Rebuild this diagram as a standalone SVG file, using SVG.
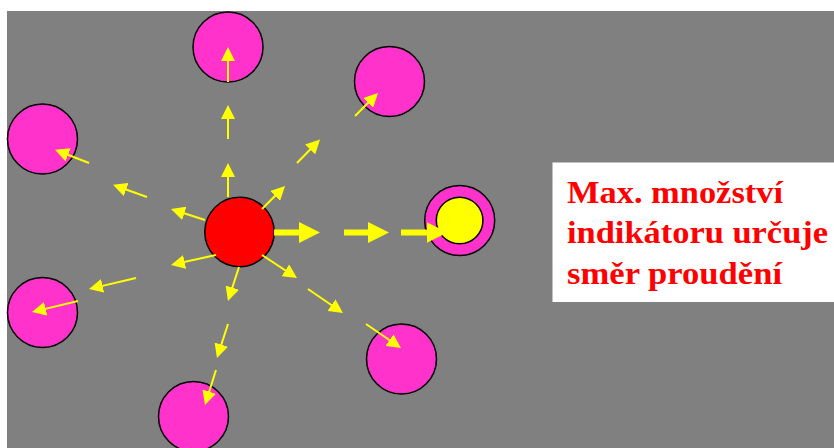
<svg xmlns="http://www.w3.org/2000/svg" width="834" height="448" viewBox="0 0 834 448">
  <style>
    .pink { fill: #FF33CC; stroke: #000; stroke-width: 1.5; }
    .red { fill: #FF0000; stroke: #000; stroke-width: 1.5; }
    .yel { fill: #FFFF00; stroke: #000; stroke-width: 1.5; }
    .thin { stroke: #FFFF00; stroke-width: 2; fill: none; marker-end: url(#headThin); }
    .thick { stroke: #FFFF00; stroke-width: 6; fill: none; marker-end: url(#headThick); }
    .label { font-family: "Liberation Serif", "Times New Roman", serif; font-weight: bold; font-size: 32px; fill: #FF0000; }
  </style>
  <defs>
    <marker id="headThin" markerUnits="userSpaceOnUse" markerWidth="14" markerHeight="14" viewBox="0 0 14 14" refX="10" refY="7" orient="auto">
      <path d="M0,0 L14,7 L0,14 Z" fill="#FFFF00"/>
    </marker>
    <marker id="headThick" markerUnits="userSpaceOnUse" markerWidth="21" markerHeight="21" viewBox="0 0 21 21" refX="13" refY="10.5" orient="auto">
      <path d="M0,0 L21,10.5 L0,21 Z" fill="#FFFF00"/>
    </marker>
  </defs>
  <rect x="0" y="0" width="834" height="448" fill="#FFFFFF"/>
  <rect id="background" x="7" y="11" width="827" height="437" fill="#808080"/>

  <g id="nodes">
    <g id="top"><circle class="pink" cx="228" cy="47" r="35"/></g>
    <g id="top-right"><circle class="pink" cx="389.5" cy="81.5" r="35"/></g>
    <g id="left-upper"><circle class="pink" cx="42.5" cy="139" r="35"/></g>
    <g id="left-lower"><circle class="pink" cx="42.5" cy="312.5" r="35"/></g>
    <g id="bottom"><circle class="pink" cx="193.5" cy="416.5" r="35"/></g>
    <g id="bottom-right"><circle class="pink" cx="401.5" cy="359" r="35"/></g>
    <g id="source"><circle class="red" cx="239.5" cy="232" r="34.7"/></g>
    <g id="target">
      <circle class="pink" cx="459.7" cy="220.5" r="35"/>
      <circle class="yel" cx="459.6" cy="220.5" r="23.3"/>
    </g>
  </g>

  <g id="connectors">
    <line class="thin" x1="228" y1="197" x2="228" y2="167"/>
    <line class="thin" x1="228" y1="139" x2="228" y2="109"/>
    <line class="thin" x1="228" y1="82" x2="228" y2="51"/>

    <line class="thin" x1="262" y1="209" x2="282.2" y2="188.8"/>
    <line class="thin" x1="297" y1="163" x2="317.2" y2="142.3"/>
    <line class="thin" x1="355" y1="116" x2="375.2" y2="95.8"/>

    <line class="thin" x1="205" y1="220" x2="174.8" y2="210.2"/>
    <line class="thin" x1="147" y1="197" x2="116.8" y2="186.2"/>
    <line class="thin" x1="89" y1="163" x2="58.8" y2="151.2"/>

    <line class="thin" x1="216" y1="255" x2="174.9" y2="264.1"/>
    <line class="thin" x1="136" y1="278" x2="92.9" y2="288.1"/>
    <line class="thin" x1="78" y1="301" x2="35.9" y2="311.1"/>

    <line class="thin" x1="239" y1="267" x2="229.2" y2="297.2"/>
    <line class="thin" x1="228" y1="324" x2="218.2" y2="354.2"/>
    <line class="thin" x1="216" y1="370" x2="206.2" y2="401.2"/>

    <line class="thin" x1="262" y1="255" x2="293.7" y2="275.8"/>
    <line class="thin" x1="308" y1="289" x2="339.7" y2="310.8"/>
    <line class="thin" x1="366" y1="324" x2="397.7" y2="345.8"/>

    <line class="thick" x1="274" y1="232.5" x2="312" y2="232.5"/>
    <line class="thick" x1="344" y1="232.5" x2="381" y2="232.5"/>
    <line class="thick" x1="401" y1="232.5" x2="439.5" y2="232.5"/>
  </g>

  <g id="note">
    <rect x="552.5" y="162.5" width="281.5" height="139.5" fill="#FFFFFF"/>
    <text class="label" x="567" y="202.5" textLength="216" lengthAdjust="spacingAndGlyphs">Max. množství</text>
    <text class="label" x="567" y="243" textLength="261" lengthAdjust="spacingAndGlyphs">indikátoru určuje</text>
    <text class="label" x="567" y="283.5" textLength="215" lengthAdjust="spacingAndGlyphs">směr proudění</text>
  </g>
</svg>
